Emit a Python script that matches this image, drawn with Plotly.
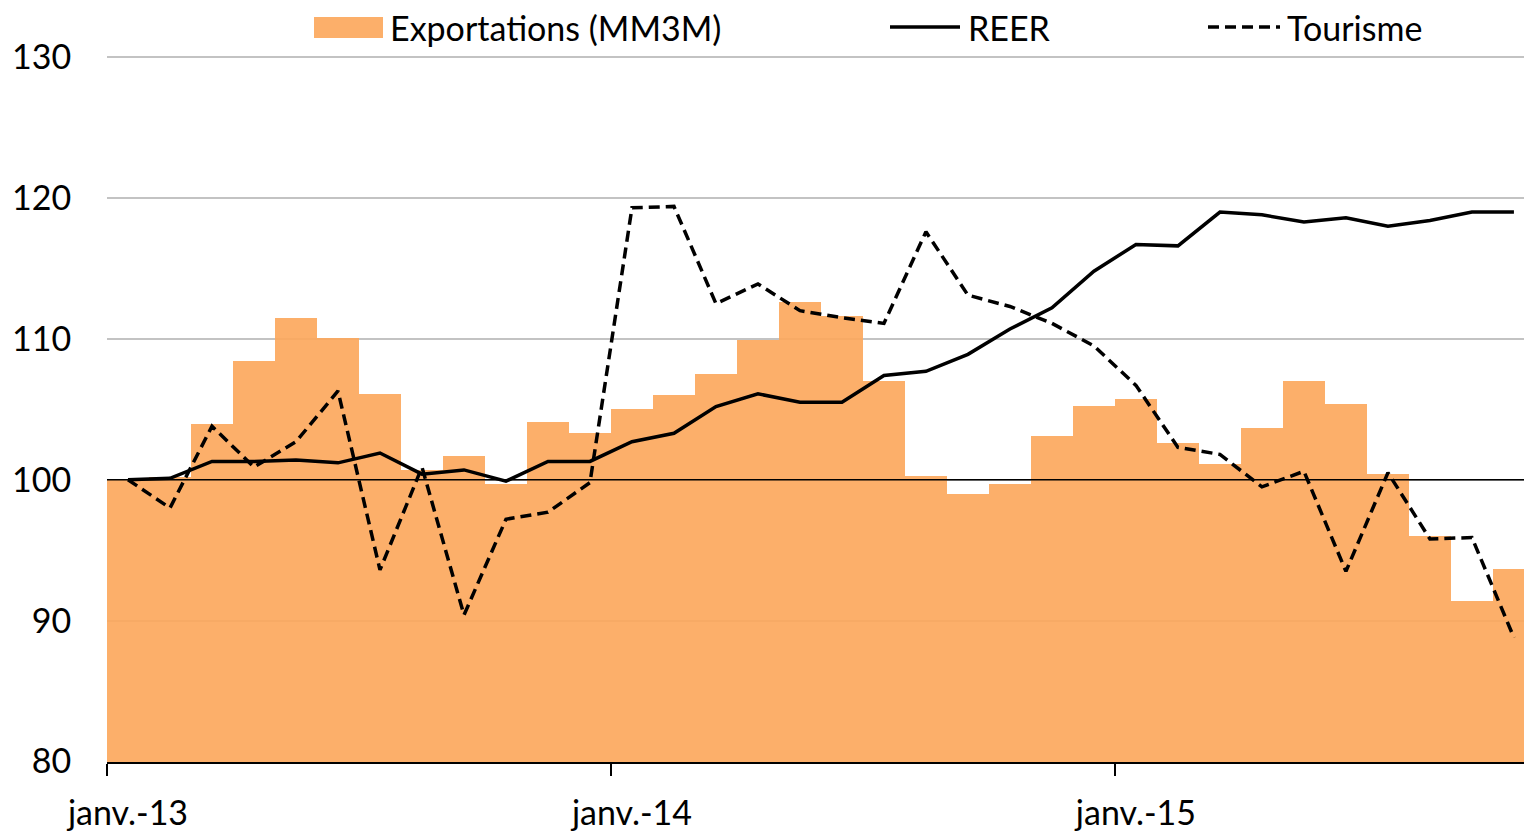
import plotly.graph_objects as go

# ---------------- data ----------------
series_names = ["Exportations (MM3M)", "REER", "Tourisme"]
tick_labels = ["janv.-13", "janv.-14", "janv.-15"]
tick_month_index = [0, 12, 24]

exportations = [100.0, 100.2, 103.95, 108.4, 111.5, 110.05, 106.1, 100.7, 101.7, 99.7,
                104.1, 103.3, 105.0, 106.0, 107.5, 109.9, 112.6, 111.6, 107.0, 100.3,
                99.0, 99.7, 103.1, 105.2, 105.7, 102.6, 101.1, 103.7, 107.0, 105.4,
                100.4, 96.0, 91.4, 93.7]
reer = [100.0, 100.1, 101.3, 101.3, 101.4, 101.2, 101.9, 100.4, 100.7, 99.9,
        101.3, 101.3, 102.7, 103.3, 105.2, 106.1, 105.5, 105.5, 107.4, 107.7,
        108.9, 110.7, 112.2, 114.8, 116.7, 116.6, 119.0, 118.8, 118.3, 118.6,
        118.0, 118.4, 119.0, 119.0]
tourisme = [100.0, 98.0, 103.8, 100.9, 102.7, 106.3, 93.6, 100.9, 90.4, 97.2,
            97.7, 99.8, 119.3, 119.4, 112.5, 113.9, 112.0, 111.5, 111.1, 117.6,
            113.1, 112.3, 111.1, 109.5, 106.7, 102.3, 101.8, 99.5, 100.6, 93.5,
            100.5, 95.8, 95.9, 88.8]
base_level = 100
y_ticks = [80, 90, 100, 110, 120, 130]

months = list(range(len(exportations)))

# ---------------- styling ----------------
W, H = 1524, 832
ML, MR, MT, MB = 107, 0, 50, 70
FONT = "Lato"
FS = 34
BAR_COLOR = "rgba(252,168,93,0.92)"
X_RANGE = [-0.5, 33.24]
Y_RANGE = [79.97, 130.5]
tick_boundaries = [m - 0.5 for m in tick_month_index]

fig = go.Figure()
fig.add_trace(go.Bar(x=months, y=exportations, name=series_names[0],
                     marker=dict(color=BAR_COLOR, line=dict(width=0)),
                     xaxis="x", yaxis="y"))
fig.add_trace(go.Scatter(x=months, y=reer, name=series_names[1], mode="lines",
                         line=dict(color="black", width=3.5),
                         xaxis="x2", yaxis="y"))
fig.add_trace(go.Scatter(x=months, y=tourisme, name=series_names[2], mode="lines",
                         line=dict(color="black", width=3.5, dash="11px,6px"),
                         xaxis="x2", yaxis="y"))

fig.update_layout(
    width=W, height=H,
    margin=dict(l=ML, r=MR, t=MT, b=MB, pad=0),
    paper_bgcolor="white", plot_bgcolor="white",
    font=dict(family=FONT, size=FS, color="black"),
    showlegend=False, bargap=0,
    xaxis=dict(range=X_RANGE, tickmode="array", tickvals=tick_boundaries,
               showticklabels=False, ticks="outside", ticklen=12, tickwidth=2,
               tickcolor="black", showline=True, linecolor="black", linewidth=2,
               showgrid=False, zeroline=False),
    xaxis2=dict(range=X_RANGE, overlaying="x", anchor="y", side="bottom",
                tickmode="array", tickvals=tick_month_index, ticktext=tick_labels,
                ticks="outside", ticklen=21, tickcolor="rgba(0,0,0,0)",
                showline=False, showgrid=False, zeroline=False,
                tickfont=dict(family=FONT, size=FS, color="black")),
    yaxis=dict(range=Y_RANGE, tickmode="array", tickvals=y_ticks,
               showgrid=True, gridcolor="#c3c3c3", gridwidth=2,
               zeroline=False, showline=False,
               ticks="outside", ticklen=28, tickcolor="rgba(0,0,0,0)",
               tickfont=dict(family=FONT, size=FS, color="black")),
)

# reference line at 100
fig.add_shape(type="line", xref="paper", yref="y", x0=0, x1=1,
              y0=base_level, y1=base_level, line=dict(color="black", width=1.5),
              layer="above")

# ---------------- custom legend (pixel positions -> paper) ----------------
PW = W - ML - MR
PH = H - MT - MB
def px_x(p):
    return (p - ML) / PW
def px_y(p):
    return (H - MB - p) / PH

leg_y = 27
fig.add_shape(type="rect", xref="paper", yref="paper",
              x0=px_x(314), x1=px_x(383), y0=px_y(38), y1=px_y(17),
              fillcolor=BAR_COLOR, line=dict(width=0))
fig.add_shape(type="line", xref="paper", yref="paper",
              x0=px_x(890), x1=px_x(960), y0=px_y(leg_y), y1=px_y(leg_y),
              line=dict(color="black", width=3.5))
fig.add_shape(type="line", xref="paper", yref="paper",
              x0=px_x(1208), x1=px_x(1280), y0=px_y(leg_y), y1=px_y(leg_y),
              line=dict(color="black", width=3.5, dash="11px,6px"))
for name, xpx in zip(series_names, [388, 966, 1285]):
    fig.add_annotation(text=name, xref="paper", yref="paper",
                       x=px_x(xpx), y=px_y(leg_y), xanchor="left", yanchor="middle",
                       showarrow=False, font=dict(family=FONT, size=FS, color="black"))

fig.write_html("out.html", config={"displayModeBar": False},
               post_script="document.body.style.margin='0';document.body.style.overflow='hidden';")
